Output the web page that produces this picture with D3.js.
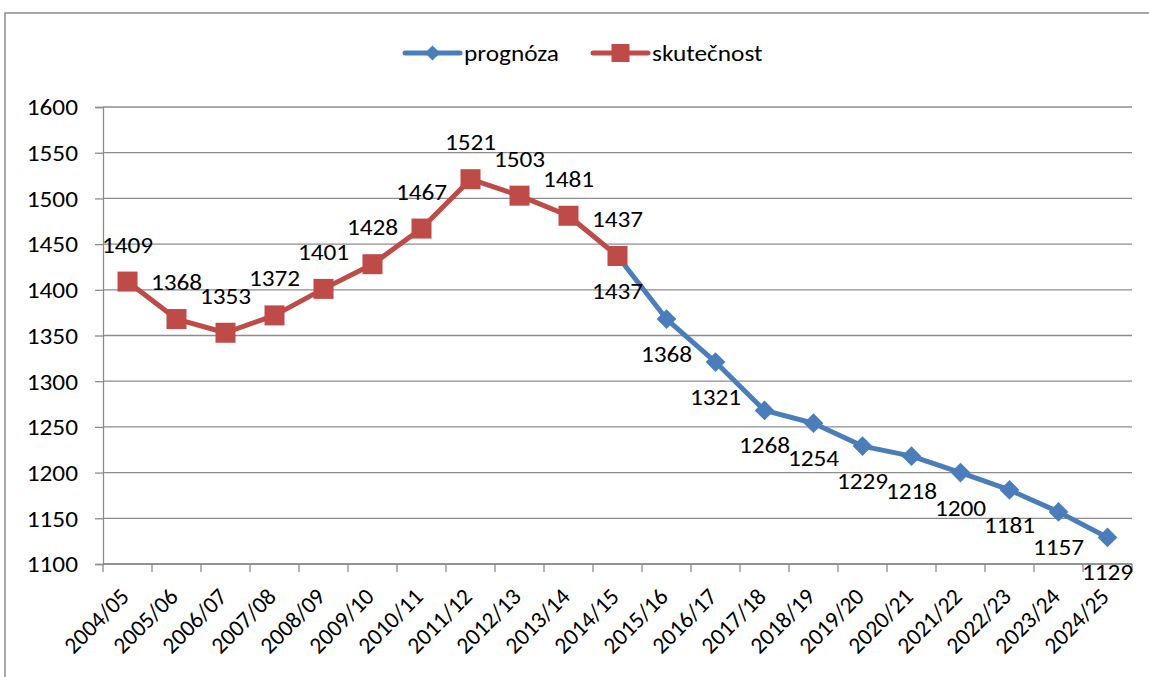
<!DOCTYPE html>
<html>
<head>
<meta charset="utf-8">
<script src="https://cdn.jsdelivr.net/npm/d3@7"></script>
<style>
  body { margin: 0; background: #fff; }
  svg text { font-family: Carlito, Lato, "Open Sans", sans-serif; fill: #000; }
</style>
</head>
<body>
<div class="chart"></div>
<script>
const years = ["2004/05","2005/06","2006/07","2007/08","2008/09","2009/10","2010/11","2011/12","2012/13","2013/14","2014/15","2015/16","2016/17","2017/18","2018/19","2019/20","2020/21","2021/22","2022/23","2023/24","2024/25"];
// skutečnost 2004/05 - 2014/15
const actual = [1409,1368,1353,1372,1401,1428,1467,1521,1503,1481,1437];
// prognóza 2014/15 - 2024/25
const forecast = [1437,1368,1321,1268,1254,1229,1218,1200,1181,1157,1129];
const yTicks = [1100,1150,1200,1250,1300,1350,1400,1450,1500,1550,1600];

const width = 1149, height = 677;
const margin = {left: 103, right: 17, top: 107, bottom: 113};
const blue = "#4A7EBB", red = "#BE4B48";
const fs = '23px';
const sx = 1.1; // the original looks a little stretched sideways

const svg = d3.select('.chart').append('svg')
  .attr('width', width).attr('height', height);

// outer frame
svg.append('rect')
  .attr('x', 5).attr('y', 13).attr('width', width + 20).attr('height', height + 20)
  .attr('fill', 'none').attr('stroke', '#8c8c8c').attr('stroke-width', 1.5);

const x = d3.scaleBand().domain(years).range([margin.left, width - margin.right]);
const y = d3.scaleLinear().domain([1100, 1600]).range([height - margin.bottom, margin.top]);
const cx = d => x(d) + x.bandwidth() / 2;

// gridlines
svg.append('g').selectAll('line').data(yTicks).enter().append('line')
  .attr('x1', margin.left).attr('x2', width - margin.right)
  .attr('y1', d => y(d)).attr('y2', d => y(d))
  .attr('stroke', '#8c8c8c').attr('stroke-width', 1.3);

// y axis
const yAxis = svg.append('g').attr('transform', `translate(${margin.left},0)`)
  .call(d3.axisLeft(y).tickValues(yTicks).tickSize(8).tickFormat(d3.format('d')));
yAxis.attr('font-family', null).attr('font-size', null);
yAxis.select('.domain').attr('stroke', '#8c8c8c').attr('stroke-width', 1.3);
yAxis.selectAll('.tick line').attr('stroke', '#8c8c8c').attr('stroke-width', 1.3);
yAxis.selectAll('.tick text').style('font-size', fs)
  .attr('x', 0).attr('dy', '0.34em')
  .attr('transform', `translate(-25,0) scale(${sx},1)`);

// x axis: boundary ticks + baseline
const bounds = years.map(d => x(d)).concat([x(years[years.length - 1]) + x.bandwidth()]);
svg.append('g').selectAll('line').data(bounds).enter().append('line')
  .attr('x1', d => d).attr('x2', d => d)
  .attr('y1', y(1100)).attr('y2', y(1100) + 8)
  .attr('stroke', '#8c8c8c').attr('stroke-width', 1.3);
svg.append('line')
  .attr('x1', margin.left).attr('x2', width - margin.right)
  .attr('y1', y(1100)).attr('y2', y(1100))
  .attr('stroke', '#8c8c8c').attr('stroke-width', 1.3);

svg.append('g').selectAll('text').data(years).enter().append('text')
  .attr('text-anchor', 'end')
  .attr('transform', d => `translate(${cx(d) + 3},${y(1100) + 34}) rotate(-45)`)
  .style('font-size', '23.5px')
  .text(d => d);

// series
const actualData = actual.map((v, i) => ({year: years[i], v: v}));
const forecastData = forecast.map((v, i) => ({year: years[i + 10], v: v}));
const line = d3.line().x(d => cx(d.year)).y(d => y(d.v));

svg.append('path').datum(forecastData).attr('d', line)
  .attr('fill', 'none').attr('stroke', blue).attr('stroke-width', 5).attr('stroke-linejoin', 'round');
svg.append('g').selectAll('path').data(forecastData).enter().append('path')
  .attr('d', d3.symbol(d3.symbolSquare, 195))
  .attr('transform', d => `translate(${cx(d.year)},${y(d.v)}) rotate(45)`)
  .attr('fill', blue);

svg.append('path').datum(actualData).attr('d', line)
  .attr('fill', 'none').attr('stroke', red).attr('stroke-width', 5).attr('stroke-linejoin', 'round');
svg.append('g').selectAll('rect').data(actualData).enter().append('rect')
  .attr('x', d => cx(d.year) - 10).attr('y', d => y(d.v) - 10)
  .attr('width', 20).attr('height', 20)
  .attr('fill', red);

// value labels: skutečnost above, prognóza below
svg.append('g').selectAll('text').data(actualData).enter().append('text')
  .attr('text-anchor', 'middle')
  .attr('transform', d => `translate(${cx(d.year)},${y(d.v) - 29}) scale(${sx},1)`)
  .style('font-size', fs)
  .text(d => d.v);
svg.append('g').selectAll('text').data(forecastData).enter().append('text')
  .attr('text-anchor', 'middle')
  .attr('transform', d => `translate(${cx(d.year)},${y(d.v) + 43}) scale(${sx},1)`)
  .style('font-size', fs)
  .text(d => d.v);

// legend
const legend = [
  {name: 'prognóza', color: blue, x0: 405},
  {name: 'skutečnost', color: red, x0: 593}
];
const lg = svg.append('g').selectAll('g').data(legend).enter().append('g')
  .attr('transform', d => `translate(${d.x0},53)`);
lg.append('line').attr('x1', 0).attr('x2', 55).attr('y1', 0).attr('y2', 0)
  .attr('stroke', d => d.color).attr('stroke-width', 5).attr('stroke-linecap', 'round');
lg.filter((d, i) => i === 0).append('path')
  .attr('d', d3.symbol(d3.symbolSquare, 115)).attr('transform', 'translate(27.5,0) rotate(45)')
  .attr('fill', d => d.color);
lg.filter((d, i) => i === 1).append('rect')
  .attr('x', 18.5).attr('y', -9).attr('width', 18).attr('height', 18)
  .attr('fill', d => d.color);
lg.append('text').attr('transform', `translate(59,8) scale(${sx},1)`)
  .style('font-size', fs).text(d => d.name);
</script>
</body>
</html>
